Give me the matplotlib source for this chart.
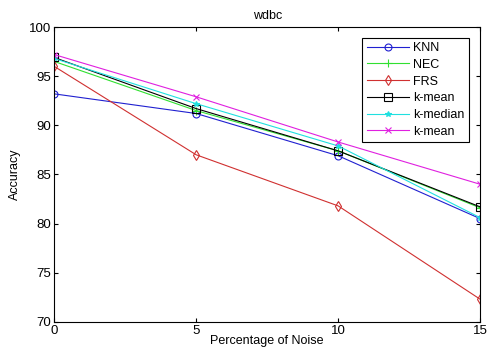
import matplotlib
matplotlib.use("Agg")
import matplotlib.pyplot as plt

plt.rcParams['font.family'] = ['Liberation Sans', 'DejaVu Sans']

noise = [0, 5, 10, 15]
knn = [93.2, 91.2, 86.9, 80.5]
nec = [96.5, 91.5, 87.4, 81.6]
frs = [96.0, 87.0, 81.8, 72.3]
kmean = [96.9, 91.7, 87.4, 81.7]
kmedian = [96.8, 92.2, 87.9, 80.6]
kmean2 = [97.2, 92.9, 88.3, 84.0]

series = [
    ("KNN", knn, '#2020d0', 'o', 5, 'none'),
    ("NEC", nec, '#30e030', '+', 6, None),
    ("FRS", frs, '#d03030', 'd', 5, 'none'),
    ("k-mean", kmean, '#000000', 's', 6, 'none'),
    ("k-median", kmedian, '#20e0e0', '*', 4, None),
    ("k-mean", kmean2, '#e020e0', 'x', 4, None),
]

fig = plt.figure(figsize=(4.88, 3.51), dpi=100)
ax = fig.add_axes([0.111, 0.083, 0.873, 0.84])
for name, vals, col, mk, ms, mfc in series:
    kw = dict(color=col, marker=mk, markersize=ms, linewidth=0.8, label=name, markeredgewidth=0.8)
    if mfc is not None:
        kw['markerfacecolor'] = mfc
    ax.plot(noise, vals, **kw)

ax.set_xlim(0, 15)
ax.set_ylim(70, 100)
ax.set_xticks([0, 5, 10, 15])
ax.set_yticks([70, 75, 80, 85, 90, 95, 100])
ax.tick_params(direction='in', top=True, right=True, labelsize=9.5, length=3)
ax.tick_params(axis='x', pad=2)
ax.tick_params(axis='y', pad=2)
for s in ax.spines.values():
    s.set_linewidth(0.8)
ax.set_xlabel("Percentage of Noise", fontsize=9, labelpad=-1)
ax.set_ylabel("Accuracy", fontsize=9, labelpad=6)
ax.set_title("wdbc", fontsize=9, pad=6)
for lab in ax.get_xticklabels() + ax.get_yticklabels():
    lab.set_clip_on(False)

leg = ax.legend(loc='upper right', fontsize=9, frameon=True, fancybox=False,
                edgecolor='black', framealpha=1, handlelength=3.4,
                borderpad=0.35, labelspacing=0.38, handletextpad=0.3,
                bbox_to_anchor=(0.988, 0.985))
leg.get_frame().set_linewidth(0.8)

fig.savefig("out.png", dpi=100)
